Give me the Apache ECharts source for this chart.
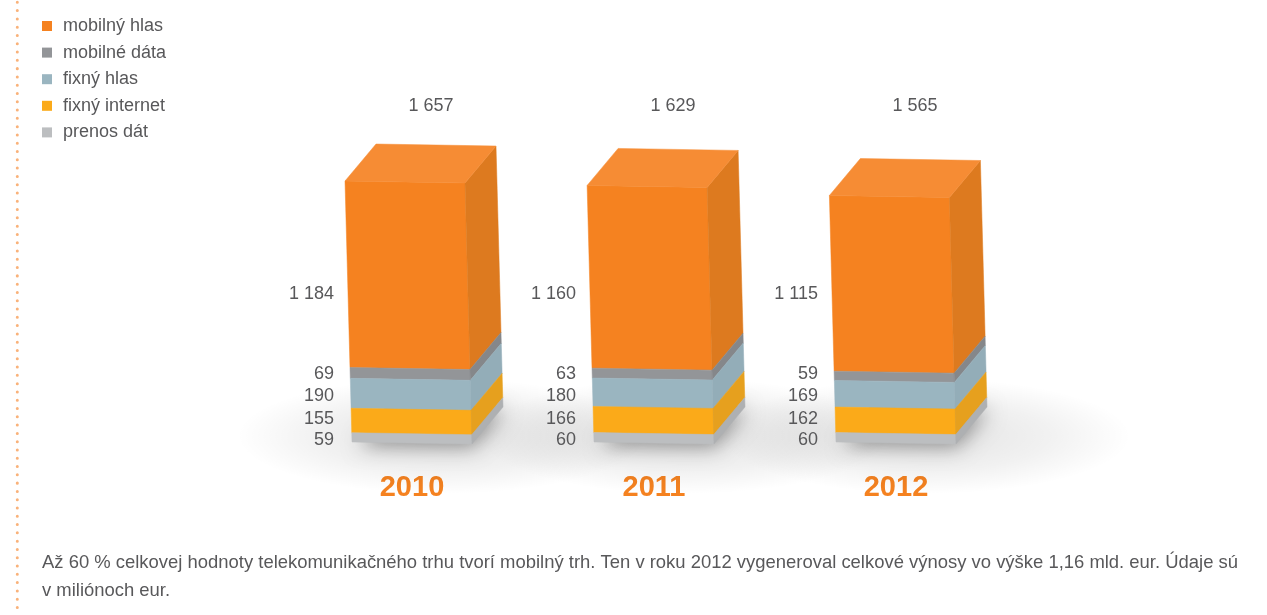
<!DOCTYPE html>
<html><head><meta charset="utf-8">
<script src="https://cdn.jsdelivr.net/npm/echarts@6/dist/echarts.min.js"></script>
<style>html,body{margin:0;padding:0;background:#fff}#c{width:1267px;height:615px}</style>
</head><body><div id="c"></div>
<script>
const categories = ['2010','2011','2012'];
const seriesNames = ['mobilný hlas','mobilné dáta','fixný hlas','fixný internet','prenos dát'];
const mobilnyHlas = [1184,1160,1115];
const mobilneData = [69,63,59];
const fixnyHlas = [190,180,169];
const fixnyInternet = [155,166,162];
const prenosDat = [59,60,60];
const totals = [1657,1629,1565];
const footerLine1 = 'Až 60 % celkovej hodnoty telekomunikačného trhu tvorí mobilný trh. Ten v roku 2012 vygeneroval celkové výnosy vo výške 1,16 mld. eur. Údaje sú';
const footerLine2 = 'v miliónoch eur.';

// styles, front / side / top
const palette = [
  ['#f58220','#dd7a1f','#f68c34'],
  ['#939598','#85878a'],
  ['#9ab5c0','#93adb8'],
  ['#fbaa19','#e6a01e'],
  ['#bcbec0','#aeb0b2']
];
const labelRowY = [294,374,396,419,440];
const FONT = '"Liberation Sans", Arial, sans-serif';
const TEXT = '#58585a';
const W = 120, DX = 31, DY = 37, SHEAR = 0.0268, SLOPE = 2;
const fmt = v => String(v).replace(/\B(?=(\d{3})+$)/g, ' ');

const stackTop = [mobilnyHlas, mobilneData, fixnyHlas, fixnyInternet, prenosDat];
function seriesData(i){
  return categories.map((c,k)=>{
    let start = 0;
    for(let j=stackTop.length-1;j>i;j--) start += stackTop[j][k];
    return [k,start,start+stackTop[i][k],stackTop[i][k]];
  });
}
function mkRender(i){
  return function(params, api){
    const k = api.value(0), base = api.coord([k,0]);
    const P = (v,u,d)=>{
      const c = api.coord([k,v]);
      return [c[0]-W/2+W*u+DX*d-(base[1]-c[1])*SHEAR, c[1]+SLOPE*u-DY*d];
    };
    const a = api.value(1), b = api.value(2);
    const poly = (pts,fill)=>({type:'polygon',shape:{points:pts},style:{fill:fill,stroke:fill,lineWidth:0.5}});
    const ch = [
      poly([P(b,0,0),P(b,1,0),P(a,1,0),P(a,0,0)],palette[i][0]),
      poly([P(b,1,0),P(b,1,1),P(a,1,1),P(a,1,0)],palette[i][1])
    ];
    if(i===0) ch.push(poly([P(b,0,0),P(b,0,1),P(b,1,1),P(b,1,0)],palette[i][2]));
    ch.push({type:'text',style:{text:fmt(api.value(3)),x:base[0]-78,y:labelRowY[i],align:'right',verticalAlign:'middle',fill:TEXT,font:'18px '+FONT}});
    if(i===0) ch.push({type:'text',style:{text:fmt(totals[k]),x:base[0]+19,y:106,align:'center',verticalAlign:'middle',fill:TEXT,font:'18px '+FONT}});
    return {type:'group',children:ch};
  };
}
function renderShadow(params, api){
  const k = api.value(0), c = api.coord([k,0]);
  return {type:'group',children:[
    {type:'circle',x:c[0]+30,y:c[1]-6,scaleX:2.05,scaleY:0.58,shape:{r:100},silent:true,
     style:{fill:{type:'radial',x:.5,y:.5,r:.5,colorStops:[{offset:0,color:'rgba(0,0,0,.11)'},{offset:.6,color:'rgba(0,0,0,.055)'},{offset:1,color:'rgba(0,0,0,0)'}]}}},
    {type:'polygon',silent:true,shape:{points:[[c[0]-56,c[1]],[c[0]+58,c[1]+1],[c[0]+90,c[1]-36],[c[0]-26,c[1]-36]]},
     style:{fill:'#aaa',shadowBlur:20,shadowColor:'rgba(0,0,0,.38)',shadowOffsetY:4,shadowOffsetX:3}}
  ]};
}
const chart = echarts.init(document.getElementById('c'),null,{renderer:'canvas'});
chart.setOption({
  animation:false,
  backgroundColor:'#fff',
  textStyle:{fontFamily:FONT},
  legend:{orient:'vertical',left:37,top:12,itemWidth:10,itemHeight:10,itemGap:8.6,icon:'rect',data:seriesNames,selectedMode:false,
    textStyle:{fontSize:18,color:TEXT,fontFamily:FONT,padding:[0,0,0,6]}},
  grid:{left:291,width:726,top:127,height:315},
  xAxis:{type:'category',data:categories,axisLine:{show:false},axisTick:{show:false},
    axisLabel:{color:'#f58220',fontSize:29,fontWeight:'bold',margin:31,fontFamily:FONT}},
  yAxis:{type:'value',min:0,max:2000,show:false,splitLine:{show:false}},
  graphic:[
    {type:'line',silent:true,shape:{x1:17.3,y1:2.3,x2:17.3,y2:615},style:{stroke:'#f9b27a',lineWidth:3,lineCap:'round',lineDash:[0.01,8.28]}},
    {type:'text',left:42,top:554,style:{text:footerLine1,fill:TEXT,font:'18.45px '+FONT}},
    {type:'text',left:42,top:582,style:{text:footerLine2,fill:TEXT,font:'18.45px '+FONT}}
  ],
  series:[
    {type:'custom',name:'tieň',renderItem:renderShadow,data:categories.map((c,k)=>[k,0]),encode:{x:0,y:1},z:1,clip:false,silent:true,tooltip:{show:false}},
    ...seriesNames.map((n,i)=>({
      type:'custom',name:n,renderItem:mkRender(i),data:seriesData(i),
      encode:{x:0,y:[1,2]},itemStyle:{color:palette[i][0]},clip:false,z:2
    }))
  ]
});
</script></body></html>
